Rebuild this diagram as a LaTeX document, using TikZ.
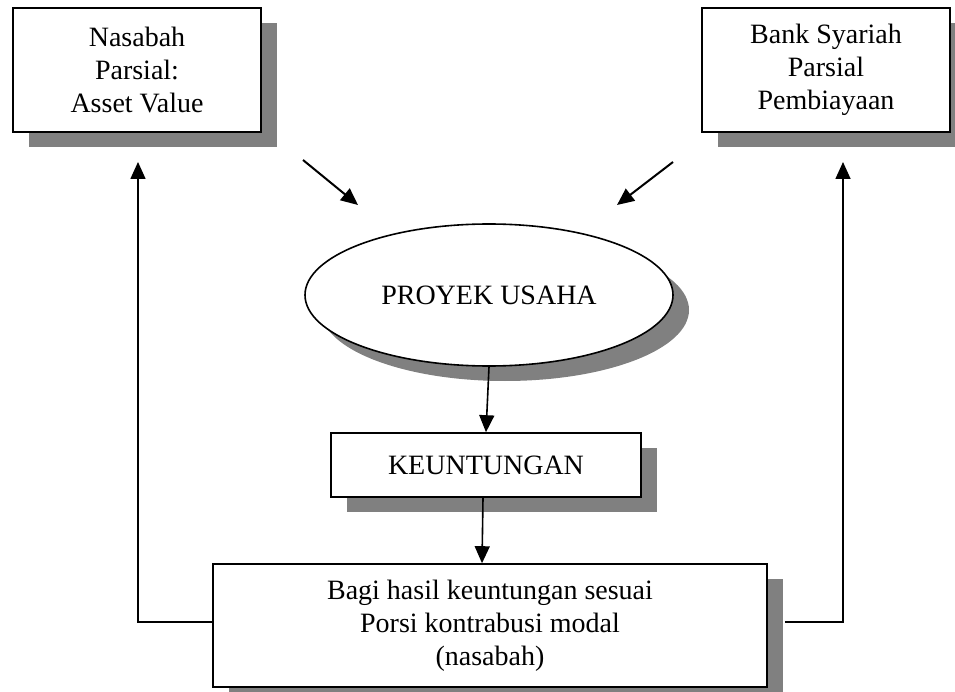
\documentclass[tikz,border=0pt]{standalone}
\usepackage{fontspec}
\setmainfont{Liberation Serif}
\usepackage{tikz}
\usetikzlibrary{shadows}
\usetikzlibrary{shapes.geometric, positioning, arrows.meta}

\begin{document}
\begin{tikzpicture}[
    x=1pt, y=-1pt,
    line width=1.6pt,
    font=\fontsize{28}{33}\selectfont,
    shade/.style={drop shadow={shadow xshift=16pt, shadow yshift=-15pt, fill=black!50, opacity=1}},
    partybox/.style={draw, rectangle, minimum width=248pt, minimum height=124pt, align=center, fill=white, shade},
    resultbox/.style={draw, rectangle, align=center, fill=white, shade},
    projectell/.style={draw, ellipse, minimum width=368pt, minimum height=142pt, fill=white, shade},
    arrow/.style={-{Triangle[length=17pt, width=15pt]}}
]

    \useasboundingbox (0,0) rectangle (955,692);

    % ================= PARTIES =================
    \node[partybox] (nasabah) at (137, 70) {Nasabah \\ Parsial: \\ Asset Value};
    \node[partybox] (bank) at (826, 70) {Bank Syariah \\ Parsial \\ Pembiayaan};

    % ================= PROJECT =================
    \node[projectell] (proyek) at (489, 295) {PROYEK USAHA};

    \coordinate (inLa) at (303, 160);
    \coordinate (inLb) at (358, 205);
    \coordinate (inRa) at (673, 162);
    \coordinate (inRb) at (617, 205);
    \draw[arrow, line width=2pt] (inLa) -- (inLb);
    \draw[arrow, line width=2pt] (inRa) -- (inRb);

    % ================= PROFIT =================
    \node[resultbox, minimum width=310pt, minimum height=64pt] (untung) at (486, 465) {KEUNTUNGAN};
    \node[resultbox, minimum width=554pt, minimum height=123pt] (bagi) at (490, 625.5)
        {Bagi hasil keuntungan sesuai \\ Porsi kontrabusi modal \\ (nasabah)};

    \draw[arrow] (proyek.south) -- (untung.north);
    \draw[arrow] ([xshift=-3pt]untung.south) -- ([xshift=-8pt]bagi.north);

    % ================= RETURN TO PARTIES =================
    \coordinate (backL) at (138, 162);
    \coordinate (backR) at (843, 162);
    \draw[arrow] ([yshift=3.5pt]bagi.west) -| (backL);
    \draw[arrow, shorten <=17pt] ([yshift=3.5pt]bagi.east) -| (backR);

\end{tikzpicture}
\end{document}
